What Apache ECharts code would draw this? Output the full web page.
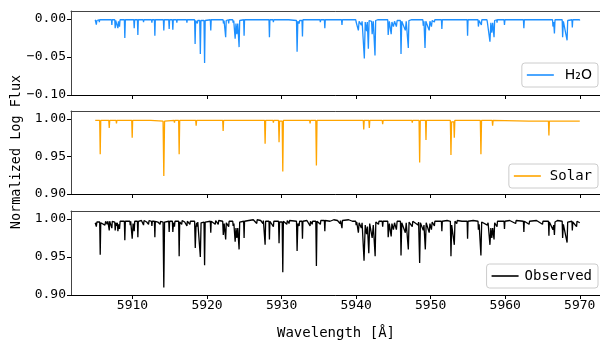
<!DOCTYPE html>
<html><head><meta charset="utf-8">
<script src="https://cdn.jsdelivr.net/npm/echarts@6/dist/echarts.min.js"></script>
<style>html,body{margin:0;padding:0;background:#fff}#c{width:600px;height:342px}</style>
</head><body><div id="c"></div><script>
const xTicks = [5910, 5920, 5930, 5940, 5950, 5960, 5970];
const h2oTicks = [-0.10, -0.05, 0.00];
const fluxTicks = [0.90, 0.95, 1.00];
const seriesNames = ['H₂O', 'Solar', 'Observed'];

const h2oSpectrum = [
[5905.00,-0.001],[5905.10,-0.002],[5905.15,-0.0075],[5905.22,-0.002],[5905.50,-0.001],[5905.55,-0.004],[5905.60,-0.001],[5906.05,-0.001],[5906.10,-0.003],[5906.15,-0.001],[5906.55,-0.001],[5906.60,-0.003],[5906.65,-0.001],
[5907.18,-0.001],[5907.23,-0.008],[5907.28,-0.001],[5907.62,-0.001],[5907.68,-0.012],[5907.74,-0.002],[5907.98,-0.002],[5908.04,-0.012],[5908.12,-0.003],[5908.26,-0.010],[5908.33,-0.001],
[5908.91,-0.001],[5908.97,-0.025],[5909.04,-0.001],[5909.64,-0.001],[5909.69,-0.003],[5909.74,-0.001],[5910.17,-0.001],[5910.23,-0.012],[5910.29,-0.001],[5910.66,-0.001],[5910.72,-0.021],[5910.78,-0.001],
[5911.43,-0.001],[5911.48,-0.004],[5911.53,-0.001],[5912.10,-0.001],[5912.15,-0.003],[5912.20,-0.001],[5912.55,-0.001],[5912.60,-0.005],[5912.65,-0.001],[5912.94,-0.001],[5913.00,-0.022],[5913.06,-0.001],
[5913.65,-0.001],[5913.70,-0.003],[5913.75,-0.001],[5914.14,-0.001],[5914.20,-0.015],[5914.26,-0.001],[5914.86,-0.001],[5914.92,-0.013],[5914.98,-0.001],[5915.35,-0.001],[5915.41,-0.014],[5915.47,-0.001],
[5915.90,-0.001],[5915.95,-0.005],[5916.00,-0.001],[5916.55,-0.001],[5916.60,-0.003],[5916.65,-0.001],[5917.25,-0.001],[5917.30,-0.005],[5917.35,-0.001],[5917.65,-0.001],[5917.70,-0.003],[5917.75,-0.001],
[5918.33,-0.001],[5918.40,-0.033],[5918.47,-0.002],[5918.65,-0.002],[5918.70,-0.006],[5918.75,-0.002],[5919.02,-0.002],[5919.10,-0.046],[5919.18,-0.002],[5919.59,-0.002],[5919.67,-0.058],[5919.75,-0.002],
[5920.44,-0.001],[5920.50,-0.015],[5920.56,-0.001],[5921.05,-0.001],[5921.10,-0.003],[5921.15,-0.001],[5921.45,-0.001],[5921.50,-0.003],[5921.55,-0.001],[5922.15,-0.001],[5922.20,-0.006],[5922.28,-0.002],[5922.43,-0.002],[5922.50,-0.024],[5922.57,-0.002],[5922.85,-0.001],[5922.90,-0.006],[5922.95,-0.001],
[5923.45,-0.001],[5923.50,-0.005],[5923.58,-0.002],[5923.77,-0.026],[5923.88,-0.006],[5924.00,-0.020],[5924.12,-0.006],[5924.30,-0.037],[5924.38,-0.002],[5924.91,-0.001],[5924.97,-0.022],[5925.03,-0.001],
[5925.55,-0.001],[5925.60,-0.002],[5925.65,-0.001],[5926.62,-0.001],[5926.67,-0.003],[5926.72,-0.001],[5927.45,-0.001],[5927.50,-0.003],[5927.55,-0.001],[5928.31,-0.001],[5928.37,-0.024],[5928.43,-0.001],[5928.85,-0.001],[5928.90,-0.004],[5928.95,-0.001],
[5930.65,-0.001],[5930.70,-0.003],[5930.75,-0.001],[5930.95,-0.001],[5931.00,-0.003],[5931.05,-0.001],[5932.00,-0.002],[5932.08,-0.043],[5932.18,-0.003],[5932.35,-0.006],[5932.42,-0.002],[5932.74,-0.002],[5932.80,-0.023],[5932.86,-0.001],
[5934.05,-0.001],[5934.10,-0.003],[5934.15,-0.001],[5935.15,-0.001],[5935.20,-0.004],[5935.25,-0.001],[5935.74,-0.001],[5935.80,-0.012],[5935.86,-0.001],[5936.45,-0.001],[5936.50,-0.002],[5936.55,-0.001],
[5938.04,-0.001],[5938.10,-0.008],[5938.16,-0.001],[5939.95,-0.001],[5940.00,-0.004],[5940.08,-0.002],[5940.30,-0.015],[5940.40,-0.003],[5940.70,-0.008],[5940.80,-0.003],[5941.10,-0.052],[5941.22,-0.004],[5941.40,-0.016],[5941.50,-0.004],[5941.64,-0.039],[5941.74,-0.002],[5942.00,-0.004],[5942.07,-0.003],[5942.15,-0.020],[5942.30,-0.003],[5942.53,-0.048],[5942.62,-0.002],
[5942.95,-0.001],[5943.00,-0.003],[5943.05,-0.001],[5944.24,-0.001],[5944.30,-0.021],[5944.45,-0.003],[5944.70,-0.020],[5944.80,-0.004],[5945.00,-0.010],[5945.15,-0.003],[5945.40,-0.010],[5945.50,-0.002],[5945.94,-0.002],[5946.02,-0.046],[5946.12,-0.003],[5946.60,-0.015],[5946.72,-0.003],[5947.00,-0.038],[5947.08,-0.002],
[5947.45,-0.001],[5947.50,-0.003],[5947.55,-0.001],[5948.25,-0.001],[5948.30,-0.003],[5948.35,-0.001],[5948.95,-0.001],[5949.00,-0.009],[5949.10,-0.003],[5949.24,-0.038],[5949.35,-0.003],[5949.80,-0.015],[5949.90,-0.003],[5950.10,-0.010],[5950.20,-0.002],[5950.45,-0.001],[5950.50,-0.004],[5950.55,-0.001],
[5951.44,-0.001],[5951.50,-0.013],[5951.56,-0.001],[5953.45,-0.001],[5953.50,-0.002],[5953.55,-0.001],[5954.89,-0.001],[5954.95,-0.022],[5955.01,-0.001],[5956.35,-0.001],[5956.40,-0.010],[5956.50,-0.002],[5956.80,-0.008],[5956.86,-0.001],
[5957.55,-0.001],[5957.60,-0.004],[5957.70,-0.002],[5957.95,-0.030],[5958.07,-0.005],[5958.20,-0.018],[5958.32,-0.005],[5958.50,-0.024],[5958.58,-0.002],[5958.85,-0.001],[5958.90,-0.005],[5958.95,-0.001],[5959.84,-0.001],[5959.90,-0.008],[5959.96,-0.001],
[5961.35,-0.001],[5961.40,-0.003],[5961.45,-0.001],[5962.44,-0.001],[5962.50,-0.012],[5962.56,-0.001],[5964.95,-0.001],[5965.00,-0.003],[5965.05,-0.001],[5966.35,-0.001],[5966.40,-0.010],[5966.50,-0.004],[5966.60,-0.019],[5966.68,-0.001],
[5967.64,-0.001],[5967.70,-0.024],[5967.80,-0.003],[5968.30,-0.028],[5968.38,-0.002],[5968.95,-0.001],[5969.00,-0.011],[5969.06,-0.001],[5969.95,-0.001],[5970.00,-0.002]
];

const solarSpectrum = [
[5905.00,0.998],[5905.60,0.998],[5905.67,0.953],[5905.74,0.998],[5906.25,0.998],[5906.30,0.996],[5906.35,0.998],[5906.82,0.998],[5906.88,0.988],[5906.94,0.998],[5907.80,0.998],[5907.85,0.994],[5907.90,0.998],
[5909.90,0.998],[5909.96,0.975],[5910.02,0.998],[5912.45,0.998],[5912.50,0.997],[5912.55,0.998],[5914.10,0.997],[5914.20,0.924],[5914.30,0.997],[5915.58,0.998],[5915.63,0.995],[5915.68,0.998],[5916.19,0.998],[5916.26,0.953],[5916.33,0.998],
[5918.48,0.998],[5918.54,0.991],[5918.60,0.998],[5920.45,0.998],[5920.50,0.997],[5920.55,0.998],[5922.10,0.998],[5922.16,0.984],[5922.22,0.998],[5923.85,0.998],[5923.90,0.997],[5923.95,0.998],
[5927.72,0.998],[5927.79,0.967],[5927.86,0.998],[5928.85,0.998],[5928.90,0.995],[5928.95,0.998],[5929.59,0.998],[5929.66,0.969],[5929.73,0.997],[5930.08,0.997],[5930.16,0.930],[5930.24,0.998],
[5933.77,0.998],[5933.82,0.994],[5933.87,0.998],[5934.59,0.998],[5934.67,0.938],[5934.75,0.998],[5937.79,0.998],[5937.84,0.996],[5937.89,0.998],[5940.96,0.998],[5941.02,0.986],[5941.08,0.998],[5941.71,0.998],[5941.77,0.988],[5941.83,0.998],[5942.48,0.998],[5942.53,0.997],[5942.58,0.998],[5943.50,0.998],[5943.56,0.993],[5943.62,0.998],
[5947.48,0.998],[5947.53,0.995],[5947.58,0.998],[5948.44,0.998],[5948.52,0.942],[5948.60,0.998],[5949.31,0.998],[5949.37,0.972],[5949.43,0.998],[5952.64,0.998],[5952.72,0.952],[5952.80,0.996],[5953.10,0.996],[5953.17,0.975],[5953.24,0.998],
[5956.66,0.998],[5956.74,0.953],[5956.82,0.998],[5958.25,0.998],[5958.31,0.991],[5958.37,0.998],[5963.15,0.997],[5963.20,0.995],[5963.25,0.997],[5965.80,0.997],[5965.86,0.978],[5965.92,0.997],[5967.73,0.997],[5967.78,0.996],[5967.83,0.997],[5969.52,0.997],[5969.57,0.995],[5969.62,0.997],[5970.00,0.997]
];

const observedSpectrum = [
[5905.00,0.995],[5905.10,0.996],[5905.15,0.990],[5905.22,0.996],[5905.60,0.996],[5905.67,0.953],[5905.74,0.995],[5905.90,0.993],[5906.00,0.997],[5906.30,0.992],[5906.40,0.997],[5906.60,0.993],[5906.70,0.997],[5906.82,0.997],[5906.88,0.985],[5906.94,0.997],[5907.17,0.997],[5907.23,0.988],[5907.29,0.997],[5907.62,0.996],[5907.68,0.985],[5907.76,0.995],[5907.85,0.991],[5907.96,0.995],[5908.04,0.984],[5908.14,0.993],[5908.26,0.987],[5908.34,0.997],
[5908.91,0.997],[5908.97,0.972],[5909.04,0.997],[5909.64,0.997],[5909.69,0.992],[5909.76,0.997],[5909.96,0.974],[5910.08,0.994],[5910.23,0.984],[5910.30,0.997],[5910.66,0.997],[5910.72,0.976],[5910.78,0.997],
[5911.20,0.998],[5911.48,0.992],[5911.55,0.998],[5911.90,0.996],[5912.15,0.993],[5912.22,0.998],[5912.55,0.997],[5912.60,0.991],[5912.66,0.997],[5912.94,0.997],[5913.00,0.976],[5913.06,0.997],[5913.40,0.996],[5913.70,0.993],[5913.76,0.997],
[5914.10,0.996],[5914.20,0.910],[5914.30,0.996],[5914.86,0.997],[5914.92,0.983],[5914.98,0.997],[5915.35,0.997],[5915.41,0.983],[5915.50,0.995],[5915.63,0.990],[5915.70,0.997],[5916.19,0.997],[5916.26,0.951],[5916.33,0.996],[5916.60,0.993],[5916.66,0.998],[5917.00,0.996],[5917.30,0.991],[5917.36,0.997],[5917.70,0.993],[5917.76,0.997],
[5918.33,0.997],[5918.42,0.962],[5918.52,0.990],[5918.60,0.995],[5918.70,0.990],[5918.76,0.996],[5919.02,0.996],[5919.10,0.950],[5919.20,0.995],[5919.59,0.996],[5919.67,0.939],[5919.75,0.996],[5920.00,0.998],[5920.44,0.997],[5920.50,0.982],[5920.56,0.997],[5921.10,0.993],[5921.16,0.998],[5921.50,0.993],[5921.56,0.998],
[5922.10,0.997],[5922.18,0.979],[5922.30,0.994],[5922.50,0.973],[5922.58,0.995],[5922.90,0.990],[5922.96,0.997],[5923.45,0.997],[5923.50,0.991],[5923.60,0.994],[5923.77,0.970],[5923.88,0.988],[5924.00,0.975],[5924.12,0.988],[5924.30,0.960],[5924.38,0.996],[5924.91,0.997],[5924.97,0.975],[5925.03,0.997],
[5925.60,0.998],[5926.20,0.999],[5926.67,0.994],[5926.72,0.999],[5927.20,0.998],[5927.50,0.994],[5927.56,0.998],[5927.72,0.998],[5927.79,0.966],[5927.86,0.997],[5928.31,0.997],[5928.37,0.973],[5928.43,0.997],[5928.90,0.990],[5928.96,0.997],[5929.59,0.997],[5929.66,0.968],[5929.73,0.996],[5930.08,0.996],[5930.16,0.930],[5930.24,0.997],[5930.70,0.993],[5930.76,0.998],[5931.00,0.994],[5931.06,0.998],
[5932.00,0.997],[5932.08,0.958],[5932.18,0.994],[5932.35,0.991],[5932.42,0.997],[5932.74,0.997],[5932.80,0.974],[5932.86,0.997],[5933.40,0.998],[5933.82,0.991],[5933.88,0.997],[5934.10,0.993],[5934.16,0.997],[5934.59,0.997],[5934.67,0.938],[5934.75,0.997],[5935.20,0.993],[5935.26,0.998],[5935.74,0.998],[5935.80,0.984],[5935.86,0.998],[5936.50,0.997],[5937.00,0.999],[5937.50,0.998],[5937.84,0.994],[5937.90,0.998],[5938.04,0.998],[5938.10,0.988],[5938.16,0.998],[5939.00,0.999],[5939.50,0.997],
[5939.95,0.997],[5940.00,0.992],[5940.08,0.996],[5940.30,0.982],[5940.40,0.995],[5940.70,0.988],[5940.80,0.995],[5941.06,0.945],[5941.22,0.992],[5941.40,0.980],[5941.52,0.990],[5941.70,0.955],[5941.82,0.994],[5942.00,0.992],[5942.15,0.975],[5942.30,0.992],[5942.55,0.951],[5942.64,0.996],[5943.00,0.993],[5943.06,0.997],[5943.50,0.997],[5943.56,0.990],[5943.62,0.997],
[5944.24,0.997],[5944.30,0.976],[5944.45,0.994],[5944.70,0.977],[5944.80,0.994],[5945.00,0.986],[5945.15,0.995],[5945.40,0.986],[5945.50,0.997],[5945.94,0.997],[5946.02,0.952],[5946.12,0.995],[5946.60,0.982],[5946.72,0.995],[5947.00,0.960],[5947.10,0.996],[5947.53,0.990],[5947.60,0.997],[5948.30,0.992],[5948.38,0.996],[5948.52,0.942],[5948.62,0.995],[5949.00,0.985],[5949.10,0.992],[5949.28,0.960],[5949.40,0.995],[5949.80,0.982],[5949.90,0.994],[5950.10,0.986],[5950.20,0.996],[5950.50,0.991],[5950.56,0.997],
[5951.44,0.997],[5951.50,0.984],[5951.56,0.997],[5952.20,0.998],[5952.64,0.997],[5952.72,0.951],[5952.82,0.992],[5953.17,0.966],[5953.26,0.997],[5953.50,0.994],[5953.56,0.998],[5954.20,0.997],[5954.89,0.997],[5954.95,0.974],[5955.01,0.997],[5955.70,0.998],[5956.35,0.997],[5956.40,0.986],[5956.50,0.993],[5956.74,0.952],[5956.84,0.996],
[5957.60,0.992],[5957.70,0.995],[5957.95,0.966],[5958.07,0.988],[5958.20,0.975],[5958.32,0.988],[5958.50,0.973],[5958.58,0.995],[5958.90,0.990],[5958.96,0.997],[5959.84,0.997],[5959.90,0.987],[5959.96,0.997],[5960.60,0.998],[5961.40,0.994],[5961.46,0.998],[5962.44,0.997],[5962.50,0.983],[5962.56,0.997],[5963.20,0.993],[5963.26,0.997],[5964.20,0.998],[5965.00,0.993],[5965.06,0.997],
[5965.80,0.997],[5965.86,0.978],[5965.92,0.996],[5966.40,0.986],[5966.50,0.992],[5966.60,0.979],[5966.68,0.996],[5967.00,0.998],[5967.64,0.997],[5967.70,0.975],[5967.80,0.993],[5968.30,0.969],[5968.38,0.996],[5968.95,0.997],[5969.00,0.985],[5969.06,0.996],[5969.57,0.990],[5969.63,0.997],[5970.00,0.995]
];

const colors = ['#1e90ff', '#ffa500', '#000000'];
const spectra = [h2oSpectrum, solarSpectrum, observedSpectrum];
const FONT = 'DejaVu Sans Mono';

const grids = [
  {left: 71, top: 11, width: 533, height: 84},
  {left: 71, top: 111, width: 533, height: 83},
  {left: 71, top: 211, width: 533, height: 84}
].map(g => Object.assign(g, {show: false, containLabel: false, outerBoundsMode: 'none'}));

const xAxes = [];
[0, 1, 2].forEach(i => {
  xAxes.push({
    type: 'value', gridIndex: i, position: 'bottom', min: 5901.75, max: 5973.25,
    splitLine: {show: false},
    axisLine: {show: true, onZero: false, lineStyle: {color: '#000', width: 1}},
    axisTick: {show: true, length: 4, lineStyle: {color: '#000'}, customValues: xTicks},
    axisLabel: {show: i === 2, customValues: xTicks, formatter: v => String(v), margin: 4, fontFamily: FONT, fontSize: 13, color: '#000'}
  });
});
[0, 1, 2].forEach(i => {
  xAxes.push({
    type: 'value', gridIndex: i, position: 'top', min: 5901.75, max: 5973.25,
    splitLine: {show: false},
    axisLine: {show: true, onZero: false, lineStyle: {color: '#444', width: 1}},
    axisTick: {show: false}, axisLabel: {show: false}
  });
});

const fmtY = v => (v < 0 ? '\u2212' : '') + Math.abs(v).toFixed(2);
const yAxes = [0, 1, 2].map(i => {
  const ticks = i === 0 ? h2oTicks : fluxTicks;
  return {
    type: 'value', gridIndex: i,
    min: i === 0 ? -0.10 : 0.90,
    max: i === 0 ? 0.0105 : 1.0105,
    splitLine: {show: false},
    axisLine: {show: true, onZero: false, lineStyle: {color: '#444', width: 1}},
    axisTick: {show: true, length: 4, lineStyle: {color: '#000'}, customValues: ticks},
    axisLabel: {customValues: ticks, formatter: fmtY, margin: 5, fontFamily: FONT, fontSize: 13, color: '#000'}
  };
});

const legendTops = [63, 164, 264];
const legendTextPad = [6, 4, 1];
const legends = [0, 1, 2].map(i => ({
  data: [seriesNames[i]], right: 2, top: legendTops[i], orient: 'horizontal',
  icon: 'rect', itemWidth: 27, itemHeight: 1.6, padding: [5, 6, 5, 5],
  borderColor: '#cccccc', borderWidth: 1, borderRadius: 3,
  backgroundColor: 'rgba(255,255,255,0.85)', selectedMode: false,
  textStyle: {fontFamily: i === 0 ? 'DejaVu Sans' : FONT, fontSize: 14, color: '#000', padding: [0, 0, 0, legendTextPad[i]]}
}));

const series = [0, 1, 2].map(i => ({
  type: 'line', name: seriesNames[i], xAxisIndex: i, yAxisIndex: i,
  data: spectra[i], showSymbol: false, symbol: 'none', color: colors[i],
  lineStyle: {width: 1.3, color: colors[i]}, animation: false, z: 2
}));

const chart = echarts.init(document.getElementById('c'), null, {renderer: 'canvas'});
chart.setOption({
  animation: false,
  backgroundColor: '#fff',
  grid: grids, xAxis: xAxes, yAxis: yAxes, legend: legends, series: series,
  graphic: [
    {type: 'text', x: 16, y: 152, rotation: Math.PI / 2,
     style: {text: 'Normalized Log Flux', font: '13.5px "DejaVu Sans Mono"', fill: '#000', textAlign: 'center', textVerticalAlign: 'middle'}},
    {type: 'text', x: 336, y: 333,
     style: {text: 'Wavelength [Å]', font: '14px "DejaVu Sans Mono"', fill: '#000', textAlign: 'center', textVerticalAlign: 'middle'}}
  ]
});
</script></body></html>
